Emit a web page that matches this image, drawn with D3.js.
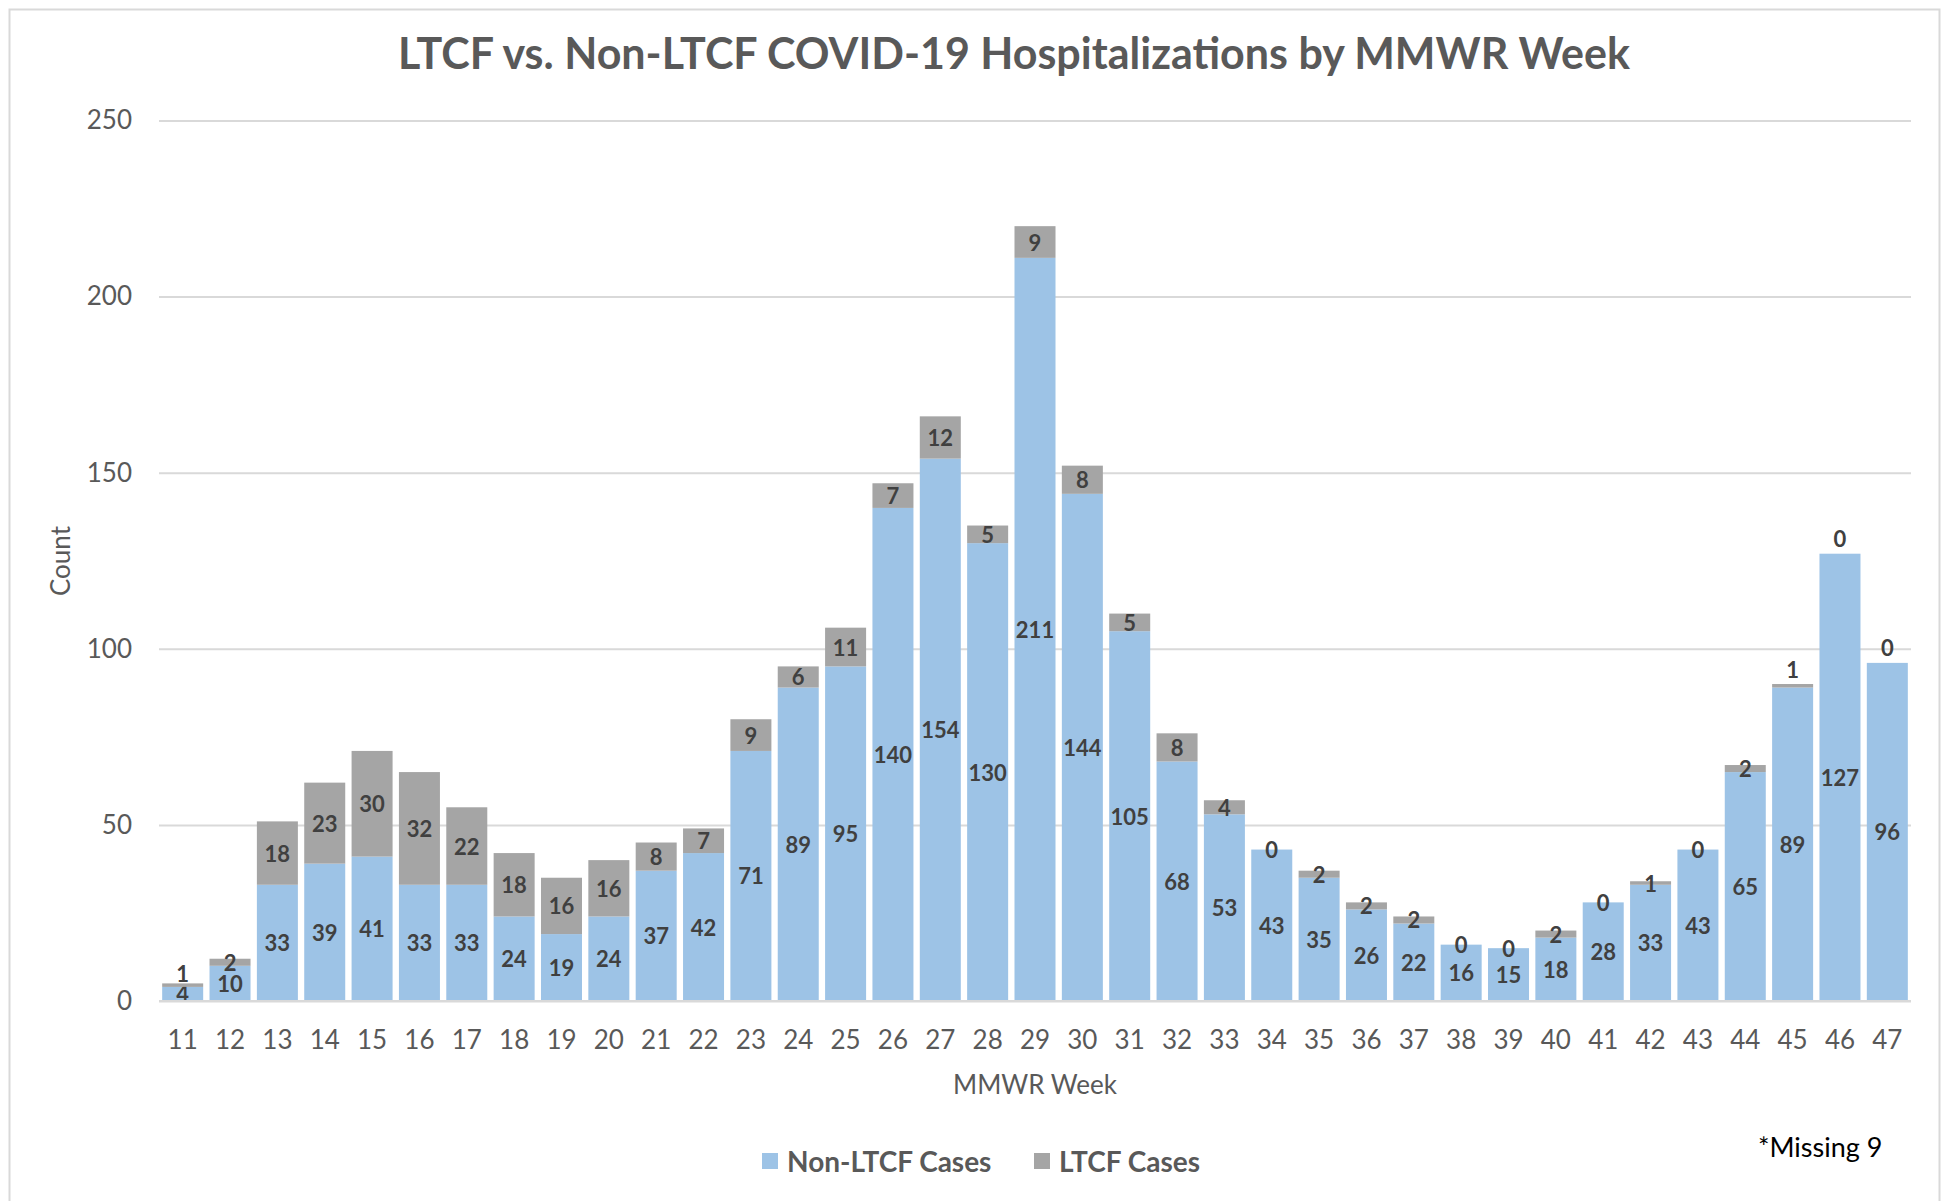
<!DOCTYPE html>
<html>
<head>
<meta charset="utf-8">
<script src="https://cdn.jsdelivr.net/npm/d3@7"></script>
<style>
  body { margin: 0; background: #fff; }
  svg { display: block; }
  text { font-family: Lato, "Open Sans", sans-serif; }
</style>
</head>
<body>
<svg width="1948" height="1201"></svg>
<script>
var weeks = [11, 12, 13, 14, 15, 16, 17, 18, 19, 20, 21, 22, 23, 24, 25, 26, 27, 28, 29,
             30, 31, 32, 33, 34, 35, 36, 37, 38, 39, 40, 41, 42, 43, 44, 45, 46, 47];
var nonLtcf = [4, 10, 33, 39, 41, 33, 33, 24, 19, 24, 37, 42, 71, 89, 95, 140, 154, 130, 211,
               144, 105, 68, 53, 43, 35, 26, 22, 16, 15, 18, 28, 33, 43, 65, 89, 127, 96];
var ltcf = [1, 2, 18, 23, 30, 32, 22, 18, 16, 16, 8, 7, 9, 6, 11, 7, 12, 5, 9,
            8, 5, 8, 4, 0, 2, 2, 2, 0, 0, 2, 0, 1, 0, 2, 1, 0, 0];
var yTicks = [0, 50, 100, 150, 200, 250];
var seriesNames = ["Non-LTCF Cases", "LTCF Cases"];
var seriesColors = ["#9dc3e6", "#a5a5a5"];
// weeks whose LTCF label was dragged above the bar in the original
var liftedLabels = [11, 45, 46, 47];

var svg = d3.select("svg"),
    width = +svg.attr("width"),
    height = +svg.attr("height");

var plot = { left: 159, right: 1911, top: 120.5, bottom: 1001 };

var x = d3.scaleBand()
    .domain(weeks)
    .range([plot.left, plot.right])
    .paddingInner(0.134)
    .paddingOuter(0.067);

var y = d3.scaleLinear()
    .domain([0, 250])
    .range([plot.bottom, plot.top]);

// chart frame
svg.append("rect")
    .attr("x", 9.5).attr("y", 9.5)
    .attr("width", 1930).attr("height", 1230)
    .attr("fill", "none")
    .attr("stroke", "#d9d9d9")
    .attr("stroke-width", 2);

// title
svg.append("text")
    .attr("x", 1014).attr("y", 52)
    .attr("text-anchor", "middle")
    .attr("dominant-baseline", "central")
    .attr("font-size", 43)
    .attr("font-weight", "bold")
    .attr("fill", "#595959")
    .text("LTCF vs. Non-LTCF COVID-19 Hospitalizations by MMWR Week");

// y axis + gridlines
var yAxis = svg.append("g")
    .attr("transform", "translate(" + plot.left + ",0)")
    .call(d3.axisLeft(y)
      .tickValues(yTicks)
      .tickSize(-(plot.right - plot.left))
      .tickPadding(27));
yAxis.select(".domain").remove();
yAxis.selectAll(".tick line").attr("stroke", "#d9d9d9").attr("stroke-width", 2);
yAxis.selectAll(".tick text")
    .attr("font-size", 26)
    .attr("font-family", "Lato")
    .attr("fill", "#595959");

// x axis
var xAxis = svg.append("g")
    .attr("transform", "translate(0," + plot.bottom + ")")
    .call(d3.axisBottom(x).tickSize(0).tickPadding(30));
xAxis.select(".domain").remove();
xAxis.selectAll(".tick text")
    .attr("font-size", 26)
    .attr("font-family", "Lato")
    .attr("fill", "#595959");

// stacked data
var rows = weeks.map(function(w, i) {
  return { week: w, non: nonLtcf[i], ltcf: ltcf[i] };
});
var stack = d3.stack().keys(["non", "ltcf"])(rows);

var layer = svg.selectAll(".layer")
  .data(stack)
  .enter().append("g")
    .attr("class", "layer")
    .attr("fill", function(d, i) { return seriesColors[i]; });

layer.selectAll("rect")
  .data(function(d) { return d; })
  .enter().append("rect")
    .attr("x", function(d) { return x(d.data.week); })
    .attr("y", function(d) { return y(d[1]); })
    .attr("width", x.bandwidth())
    .attr("height", function(d) { return y(d[0]) - y(d[1]); });

// baseline drawn over bars
svg.append("line")
    .attr("x1", plot.left).attr("x2", plot.right)
    .attr("y1", plot.bottom).attr("y2", plot.bottom)
    .attr("stroke", "#d9d9d9").attr("stroke-width", 2);

// data labels
layer.selectAll("text")
  .data(function(d) { return d.map(function(p) { p.key = d.key; return p; }); })
  .enter().append("text")
    .attr("x", function(d) { return x(d.data.week) + x.bandwidth() / 2; })
    .attr("y", function(d) {
      if (d.key === "ltcf" && liftedLabels.indexOf(d.data.week) !== -1) {
        return y(d[1]) - (d.data.week === 11 ? 10 : 15);
      }
      return y((d[0] + d[1]) / 2);
    })
    .attr("text-anchor", "middle")
    .attr("dominant-baseline", "central")
    .attr("font-size", 22)
    .attr("font-weight", "bold")
    .attr("fill", "#404040")
    .text(function(d) { return d.data[d.key]; });

// axis titles
svg.append("text")
    .attr("transform", "translate(60,561) rotate(-90)")
    .attr("text-anchor", "middle")
    .attr("dominant-baseline", "central")
    .attr("font-size", 26)
    .attr("fill", "#595959")
    .text("Count");

svg.append("text")
    .attr("x", 1035).attr("y", 1084)
    .attr("text-anchor", "middle")
    .attr("dominant-baseline", "central")
    .attr("font-size", 26)
    .attr("fill", "#595959")
    .text("MMWR Week");

// legend
var legendX = [762, 1034];
var legend = svg.selectAll(".legend")
  .data(seriesNames)
  .enter().append("g")
    .attr("class", "legend")
    .attr("transform", function(d, i) { return "translate(" + legendX[i] + ",1161)"; });

legend.append("rect")
    .attr("x", 0).attr("y", -8)
    .attr("width", 16).attr("height", 16)
    .attr("fill", function(d, i) { return seriesColors[i]; });

legend.append("text")
    .attr("x", 25).attr("y", 0)
    .attr("dominant-baseline", "central")
    .attr("font-size", 28)
    .attr("font-weight", "bold")
    .attr("fill", "#595959")
    .text(function(d) { return d; });

// footnote
svg.append("text")
    .attr("x", 1758).attr("y", 1146)
    .attr("dominant-baseline", "central")
    .attr("font-size", 27)
    .attr("fill", "#000")
    .text("*Missing 9");
</script>
</body>
</html>
